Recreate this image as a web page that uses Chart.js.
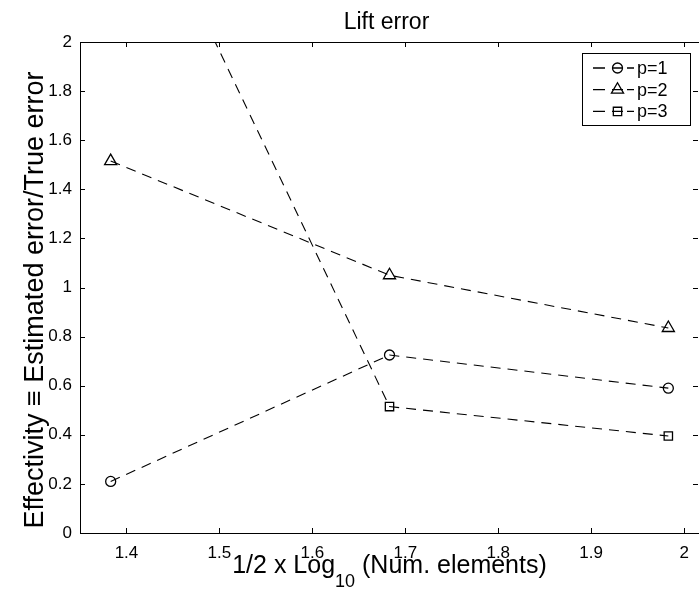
<!DOCTYPE html>
<html>
<head>
<meta charset="utf-8">
<script src="https://cdn.jsdelivr.net/npm/chart.js@4/dist/chart.umd.min.js"></script>
<style>
  html, body { margin: 0; padding: 0; background: #fff; overflow: hidden; }
</style>
</head>
<body>
<canvas id="liftChart" width="699" height="590"></canvas>
<script>
// 1/2 x log10(number of elements) for the three meshes
const meshX = [1.383, 1.683, 1.983];

// effectivity = estimated error / true error, per polynomial order
const effP1 = [0.21, 0.725, 0.59];
const effP2 = [1.515, 1.05, 0.835];
const effP3 = [2.89, 0.515, 0.395];

const seriesLabels = ["p=1", "p=2", "p=3"];
const xTicks = [1.4, 1.5, 1.6, 1.7, 1.8, 1.9, 2];
const yTicks = [0, 0.2, 0.4, 0.6, 0.8, 1, 1.2, 1.4, 1.6, 1.8, 2];

const FONT = "'Liberation Sans', Arial, Helvetica, sans-serif";
const dash = [10, 7];

function pts(ys) {
  return meshX.map((x, i) => ({ x: x, y: ys[i] }));
}

function series(label, ys, style, radius) {
  return {
    label: label,
    data: pts(ys),
    borderColor: "#000",
    borderWidth: 1.1,
    borderDash: dash,
    pointStyle: style,
    pointRadius: radius,
    pointBorderColor: "#000",
    pointBorderWidth: 1.3,
    pointBackgroundColor: "rgba(0,0,0,0)",
    tension: 0,
    fill: false
  };
}

const fmt = v => String(Number(v.toFixed(2)));

// frame, inward ticks, titles and the legend box
const decorations = {
  id: "decorations",
  afterDatasetsDraw(chart) {
    const { ctx, chartArea: a, scales } = chart;
    const xs = scales.x, ys = scales.y;
    ctx.save();
    ctx.strokeStyle = "#000";
    ctx.lineWidth = 1;
    ctx.setLineDash([]);
    ctx.strokeRect(a.left + 0.5, a.top + 0.5, a.right - a.left, a.bottom - a.top);

    ctx.beginPath();
    xTicks.forEach(v => {
      const px = Math.round(xs.getPixelForValue(v)) + 0.5;
      ctx.moveTo(px, a.bottom); ctx.lineTo(px, a.bottom - 5);
      ctx.moveTo(px, a.top); ctx.lineTo(px, a.top + 5);
    });
    yTicks.forEach(v => {
      const py = Math.round(ys.getPixelForValue(v)) + 0.5;
      ctx.moveTo(a.left, py); ctx.lineTo(a.left + 5, py);
      ctx.moveTo(a.right - 1, py); ctx.lineTo(a.right - 6, py);
    });
    ctx.stroke();

    const cx = (a.left + a.right) / 2;
    ctx.fillStyle = "#000";
    ctx.textAlign = "center";
    ctx.textBaseline = "alphabetic";
    ctx.font = "23px " + FONT;
    ctx.fillText("Lift error", cx - 3, 29);

    // x axis title with a subscript 10
    const big = "25px " + FONT, small = "18px " + FONT;
    const p1 = "1/2 x Log", sub = "10", p2 = " (Num. elements)";
    ctx.font = big;
    const w1 = ctx.measureText(p1).width, w3 = ctx.measureText(p2).width;
    ctx.font = small;
    const w2 = ctx.measureText(sub).width;
    const x0 = cx - (w1 + w2 + w3) / 2;
    const base = 573;
    ctx.textAlign = "left";
    ctx.font = big;
    ctx.fillText(p1, x0, base);
    ctx.font = small;
    ctx.fillText(sub, x0 + w1, base + 14);
    ctx.font = big;
    ctx.fillText(p2, x0 + w1 + w2, base);

    // y axis title
    ctx.save();
    ctx.translate(43, 300);
    ctx.rotate(-Math.PI / 2);
    ctx.textAlign = "center";
    ctx.font = "27px " + FONT;
    ctx.fillText("Effectivity \u2261 Estimated error/True error", 0, 0);
    ctx.restore();

    // legend
    const lx = 582, ly = 53, lw = 108, lh = 72;
    ctx.fillStyle = "#fff";
    ctx.fillRect(lx, ly, lw, lh);
    ctx.strokeRect(lx + 0.5, ly + 0.5, lw, lh);
    chart.data.datasets.forEach((ds, i) => {
      const ey = 68 + i * 21.7;
      ctx.strokeStyle = "#000";
      ctx.lineWidth = 1.3;
      ctx.beginPath();
      ctx.moveTo(593, ey); ctx.lineTo(605, ey);
      ctx.moveTo(612, ey); ctx.lineTo(623, ey);
      ctx.moveTo(627, ey); ctx.lineTo(634, ey);
      ctx.stroke();
      ctx.fillStyle = "rgba(0,0,0,0)";
      Chart.helpers.drawPoint(ctx, {
        pointStyle: ds.pointStyle,
        radius: ds.pointRadius,
        borderWidth: 1.3,
        rotation: 0
      }, 617.5, ey);
      ctx.fillStyle = "#000";
      ctx.font = "18px " + FONT;
      ctx.textAlign = "left";
      ctx.textBaseline = "middle";
      ctx.fillText(ds.label, 637, ey + 1);
    });
    ctx.restore();
  }
};

new Chart(document.getElementById("liftChart"), {
  type: "line",
  data: {
    datasets: [
      series(seriesLabels[0], effP1, "circle", 5),
      series(seriesLabels[1], effP2, "triangle", 7),
      series(seriesLabels[2], effP3, "rect", 5.9)
    ]
  },
  options: {
    responsive: false,
    animation: false,
    devicePixelRatio: 1,
    layout: { autoPadding: false, padding: { top: 42, right: 0, bottom: 0, left: 0 } },
    plugins: {
      legend: { display: false },
      title: { display: false },
      tooltip: { enabled: false }
    },
    scales: {
      x: {
        type: "linear",
        min: 1.35,
        max: 2.016,
        grid: { display: false, drawTicks: false },
        border: { display: false },
        afterFit: s => { s.height = 57; s.paddingLeft = 0; s.paddingRight = 0; },
        afterBuildTicks: s => { s.ticks = xTicks.map(v => ({ value: v })); },
        ticks: {
          padding: 10,
          maxRotation: 0,
          color: "#000",
          font: { family: FONT, size: 17 },
          callback: fmt
        }
      },
      y: {
        min: 0,
        max: 2,
        grid: { display: false, drawTicks: false },
        border: { display: false },
        afterFit: s => { s.width = 80; s.paddingTop = 0; s.paddingBottom = 0; },
        afterBuildTicks: s => { s.ticks = yTicks.map(v => ({ value: v })); },
        ticks: {
          padding: 8,
          color: "#000",
          font: { family: FONT, size: 17 },
          callback: fmt
        }
      }
    }
  },
  plugins: [decorations]
});
</script>
</body>
</html>
